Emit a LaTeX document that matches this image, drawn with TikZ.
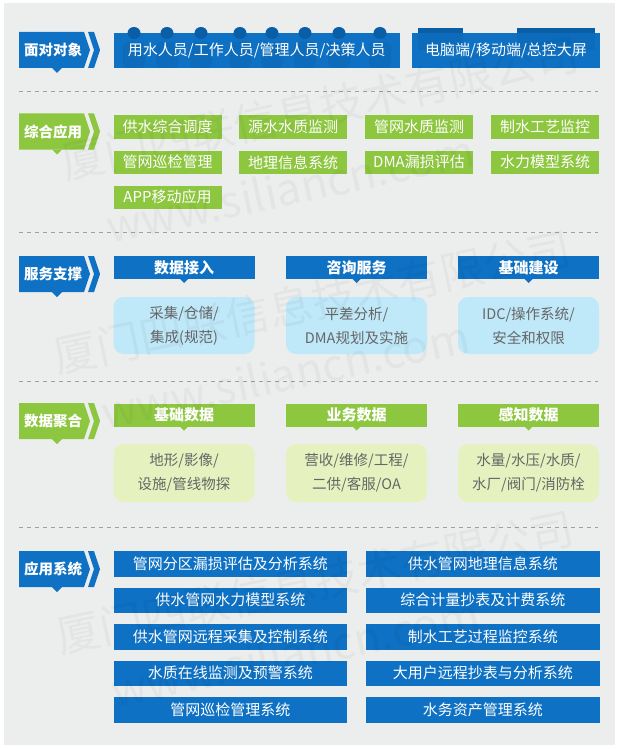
\documentclass[tikz,border=0pt]{standalone}
\usepackage{fontspec}
\setmainfont{Noto Sans CJK SC}
\usetikzlibrary{calc}
\definecolor{bblue}{HTML}{0E71C3}
\definecolor{dblue}{HTML}{0A5EA6}
\definecolor{lgreen}{HTML}{8DC63F}
\definecolor{paleblue}{HTML}{BFE8F9}
\definecolor{palegreen}{HTML}{E5F2BF}
\definecolor{panel}{HTML}{ECEEEE}
\definecolor{txtgray}{HTML}{666666}
\definecolor{dashgray}{HTML}{A0A0A0}
\tikzset{
 base/.style={inner sep=0pt, outer sep=0pt, anchor=north west},
 bluebox/.style={base, fill=bblue, text=white, font=\fontsize{15}{15}\selectfont},
 boxtext/.style={inner sep=0pt, text=white, font=\fontsize{15}{15}\selectfont},
 greenbox/.style={base, fill=lgreen, text=white, font=\fontsize{15}{15}\selectfont, minimum width=108pt, minimum height=23.5pt},
 headblue/.style={base, fill=bblue, text=white, font=\bfseries\fontsize{15}{15}\selectfont, minimum width=141pt, minimum height=23pt},
 headgreen/.style={headblue, fill=lgreen},
 softblue/.style={base, fill=paleblue, rounded corners=10pt, text=txtgray, align=center, font=\fontsize{14.5}{24}\selectfont, minimum width=141pt, minimum height=57pt},
 softgreen/.style={softblue, fill=palegreen, minimum height=58pt},
 sysbox/.style={bluebox, minimum width=233.5pt, minimum height=25.5pt},
 labeltext/.style={text=white, font=\bfseries\fontsize{14.5}{14.5}\selectfont, inner sep=0pt},
 divider/.style={dashgray, line width=0.9pt, dash pattern=on 4pt off 4pt},
 wm/.style={text=black, opacity=0.035, font=\fontsize{44}{44}\selectfont, rotate=12, inner sep=0pt},
}
\newcommand{\seclabel}[4]{%
 \begin{scope}[shift={(0,#2)}]
 \fill[#3] (19,0) -- (84,0) -- (90,18) -- (84,36) -- (19,36) -- cycle;
 \fill[#3] (88,0) -- (94,0) -- (100,18) -- (94,36) -- (88,36) -- (94,18) -- cycle;
 \fill[#3] (52,36) -- (62,36) -- (57,41) -- cycle;
 \node[labeltext] (#1) at (53,18) {#4};
 \end{scope}}
\newcommand{\hpointer}[2]{\fill[#2] ($(#1.south)+(-4,0)$) -- ($(#1.south)+(4,0)$) -- ($(#1.south)+(0,4)$) -- cycle;}
\begin{document}
\begin{tikzpicture}[x=1pt,y=-1pt]
\fill[white] (0,0) rectangle (618,749);
\useasboundingbox (0,0) rectangle (618,749);
\fill[panel] (4,3) rectangle (615,745);

% ---------- section 1
\seclabel{l1}{32}{bblue}{面对对象}
\node[bluebox, minimum width=286.5pt, minimum height=35.3pt] (f1) at (113.5,32.7) {};
\foreach \hx in {134,167,201,240,272,305,339,380} {
  \fill[dblue] (\hx,33) ellipse (6.5 and 6);
  \fill[dblue, opacity=0.3, rounded corners=5pt] (\hx-11,68) rectangle (\hx+11,42);
}
\node[boxtext] (f1t) at (f1.center) {用水人员/工作人员/管理人员/决策人员};
\node[bluebox, minimum width=188pt, minimum height=35.3pt] (f2) at (412,32.7) {};
\fill[dblue] (418,28) rectangle (463,33);
\fill[dblue] (517,28) rectangle (595,33);
\fill[dblue, opacity=0.3] (418,33) rectangle (463,50);
\fill[dblue, opacity=0.3] (517,33) rectangle (595,50);
\node[boxtext] (f2t) at (f2.center) {电脑端/移动端/总控大屏};
\draw[divider] (19,91) -- (598,91);

% ---------- section 2
\seclabel{l2}{113.5}{lgreen}{综合应用}
\node[greenbox] (g11) at (113.5,115) {供水综合调度};
\node[greenbox] (g12) at (239,115) {源水水质监测};
\node[greenbox] (g13) at (365,115) {管网水质监测};
\node[greenbox] (g14) at (491,115) {制水工艺监控};
\node[greenbox] (g21) at (113.5,150.5) {管网巡检管理};
\node[greenbox] (g22) at (239,150.5) {地理信息系统};
\node[greenbox] (g23) at (365,150.5) {DMA漏损评估};
\node[greenbox] (g24) at (491,150.5) {水力模型系统};
\node[greenbox] (g31) at (113.5,185.5) {APP移动应用};
\draw[divider] (19,232) -- (598,232);

% ---------- section 3
\seclabel{l3}{256}{bblue}{服务支撑}
\node[headblue] (h31) at (113.5,256) {数据接入};
\node[headblue] (h32) at (286,256) {咨询服务};
\node[headblue] (h33) at (458,256) {基础建设};
\hpointer{h31}{bblue}\hpointer{h32}{bblue}\hpointer{h33}{bblue}
\node[softblue] (r31) at (113.5,297) {采集/仓储/\\集成(规范)};
\node[softblue] (r32) at (286,297) {平差分析/\\DMA规划及实施};
\node[softblue] (r33) at (458,297) {IDC/操作系统/\\安全和权限};
\draw[divider] (19,381) -- (598,381);

% ---------- section 4
\seclabel{l4}{403}{lgreen}{数据聚合}
\node[headgreen] (h41) at (113.5,403.5) {基础数据};
\node[headgreen] (h42) at (286,403.5) {业务数据};
\node[headgreen] (h43) at (458,403.5) {感知数据};
\hpointer{h41}{lgreen}\hpointer{h42}{lgreen}\hpointer{h43}{lgreen}
\node[softgreen] (r41) at (113.5,444) {地形/影像/\\设施/管线物探};
\node[softgreen] (r42) at (286,444) {营收/维修/工程/\\二供/客服/OA};
\node[softgreen] (r43) at (458,444) {水量/水压/水质/\\水厂/阀门/消防栓};
\draw[divider] (19,527) -- (598,527);

% ---------- section 5
\seclabel{l5}{551}{bblue}{应用系统}
\node[sysbox] (s11) at (113.5,551) {管网分区漏损评估及分析系统};
\node[sysbox] (s21) at (113.5,587.5) {供水管网水力模型系统};
\node[sysbox] (s31) at (113.5,624) {供水管网远程采集及控制系统};
\node[sysbox] (s41) at (113.5,660.5) {水质在线监测及预警系统};
\node[sysbox] (s51) at (113.5,697) {管网巡检管理系统};
\node[sysbox] (s12) at (366,551) {供水管网地理信息系统};
\node[sysbox] (s22) at (366,587.5) {综合计量抄表及计费系统};
\node[sysbox] (s32) at (366,624) {制水工艺过程监控系统};
\node[sysbox] (s42) at (366,660.5) {大用户远程抄表与分析系统};
\node[sysbox] (s52) at (366,697) {水务资产管理系统};

% ---------- watermark
\node[wm] (w1) at (320,108) {厦门四联信息技术有限公司};
\node[wm] (w1b) at (290,188) {www.siliancn.com};
\node[wm] (w2) at (312,302) {厦门四联信息技术有限公司};
\node[wm] (w2b) at (285,374) {www.siliancn.com};
\node[wm] (w3) at (315,582) {厦门四联信息技术有限公司};
\node[wm] (w3b) at (295,652) {www.siliancn.com};
\end{tikzpicture}
\end{document}
